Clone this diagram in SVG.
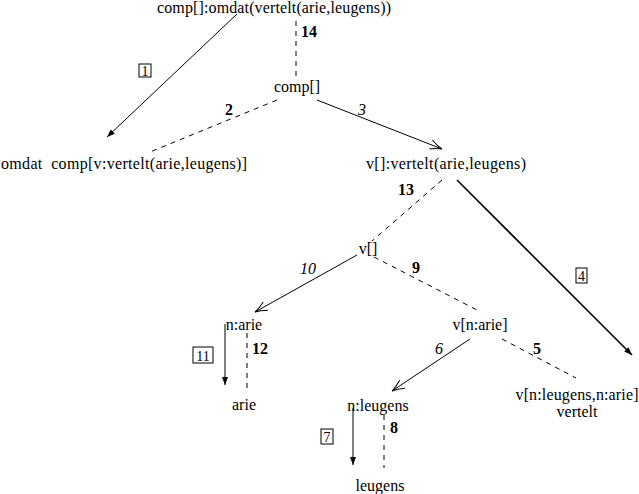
<svg xmlns="http://www.w3.org/2000/svg" width="639" height="494" viewBox="0 0 639 494" font-family="Liberation Serif">
<style>
text{font-size:16px;fill:#000}
.n{text-anchor:middle}
.b{font-weight:bold}
.i{font-style:italic}
.c{text-anchor:middle;font-size:14px}
.s{stroke:#000;stroke-width:1;fill:none}
.t{stroke:#000;stroke-width:1.6;fill:none}
.d{stroke:#000;stroke-width:1;fill:none;stroke-dasharray:5 5}
.box{fill:none;stroke:#000;stroke-width:1}
</style>
<defs>
<marker id="fa" viewBox="0 0 8 6" refX="8" refY="3" markerWidth="8" markerHeight="6" markerUnits="userSpaceOnUse" orient="auto">
<path d="M0,0 L8,3 L0,6 z" fill="#000"/>
</marker>
<marker id="oa" viewBox="0 0 13 10" refX="12.5" refY="5" markerWidth="13" markerHeight="10" markerUnits="userSpaceOnUse" orient="auto">
<path d="M0,0 Q7,4 12.5,5 Q7,6 0,10" fill="none" stroke="#000" stroke-width="1"/>
</marker>
</defs>
<rect width="639" height="494" fill="#fff"/>
<g id="connectors">
<line class="s" x1="237" y1="14" x2="107" y2="137" marker-end="url(#fa)"/>
<rect class="box" x="139" y="64" width="12" height="13"/><text class="c" x="145" y="75.5">1</text>
<line class="d" x1="296" y1="21" x2="296" y2="77"/>
<text class="b" x="301" y="37">14</text>
<line class="d" x1="277" y1="100" x2="150" y2="152"/>
<text class="b" x="225" y="115">2</text>
<line class="s" x1="317" y1="100" x2="442" y2="149" marker-end="url(#oa)"/>
<text class="i" x="358" y="115">3</text>
<line class="d" x1="442" y1="180" x2="372" y2="241"/>
<text class="b" x="398" y="195">13</text>
<line class="t" x1="457" y1="180" x2="632" y2="355" marker-end="url(#fa)"/>
<rect class="box" x="576" y="268" width="11" height="15"/><text class="c" x="581.5" y="281">4</text>
<line class="s" x1="357" y1="255" x2="255" y2="312" marker-end="url(#oa)"/>
<text class="i" x="300" y="274">10</text>
<line class="d" x1="374" y1="257" x2="477" y2="310"/>
<text class="b" x="412" y="273">9</text>
<line class="s" x1="225" y1="324" x2="225" y2="385" marker-end="url(#fa)"/>
<rect class="box" x="193" y="347" width="20" height="16"/><text class="c" x="203" y="361">11</text>
<line class="d" x1="247" y1="333" x2="247" y2="393"/>
<text class="b" x="252" y="354">12</text>
<line class="s" x1="470" y1="339" x2="392" y2="391" marker-end="url(#oa)"/>
<text class="i" x="435" y="354">6</text>
<line class="d" x1="502" y1="339" x2="576" y2="378"/>
<text class="b" x="533" y="354">5</text>
<line class="s" x1="353" y1="408" x2="353" y2="465" marker-end="url(#fa)"/>
<rect class="box" x="321" y="429" width="12" height="15"/><text class="c" x="327" y="442">7</text>
<line class="d" x1="384" y1="415" x2="384" y2="468"/>
<text class="b" x="390" y="433">8</text>
</g>
<g id="node-root"><text class="n" x="274" y="13" textLength="234">comp[]:omdat(vertelt(arie,leugens))</text></g>
<g id="node-comp"><text class="n" x="297" y="92">comp[]</text></g>
<g id="node-omdat"><text class="n" x="124" y="169" xml:space="preserve" textLength="246">omdat  comp[v:vertelt(arie,leugens)]</text></g>
<g id="node-vvertelt"><text class="n" x="446" y="169" textLength="160">v[]:vertelt(arie,leugens)</text></g>
<g id="node-v"><text class="n" x="368" y="254">v[]</text></g>
<g id="node-narie"><text class="n" x="244" y="330">n:arie</text></g>
<g id="node-vnarie"><text class="n" x="480" y="330">v[n:arie]</text></g>
<g id="node-arie"><text class="n" x="244" y="410">arie</text></g>
<g id="node-nleugens"><text class="n" x="378" y="411">n:leugens</text></g>
<g id="node-vfull"><text class="n" x="577" y="400" textLength="123">v[n:leugens,n:arie]</text><text class="n" x="577" y="417">vertelt</text></g>
<g id="node-leugens"><text class="n" x="380" y="491">leugens</text></g>
</svg>
